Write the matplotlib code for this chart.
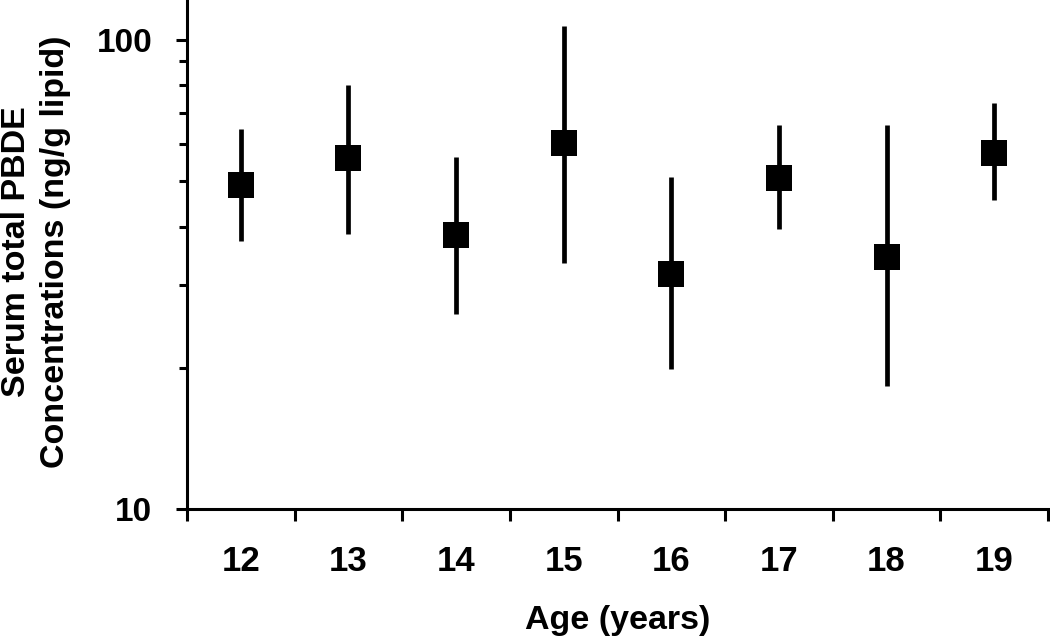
import matplotlib
matplotlib.use("Agg")
import matplotlib.pyplot as plt
from matplotlib.ticker import FixedLocator, NullFormatter, LogLocator

plt.rcParams['font.family'] = ['Liberation Sans', 'DejaVu Sans']
plt.rcParams['font.weight'] = 'bold'

ages = [12, 13, 14, 15, 16, 17, 18, 19]
mean_vals = [49.1, 55.9, 38.4, 60.2, 31.7, 50.7, 34.5, 57.5]
upper_vals = [64.5, 80.2, 56.4, 107.1, 51.1, 65.9, 65.9, 73.5]
lower_vals = [37.3, 38.6, 26.0, 33.5, 19.9, 39.5, 18.3, 45.6]
y_ticks = [10, 100]
y_tick_labels = ["10", "100"]

fig = plt.figure(figsize=(10.5, 6.43), dpi=100)
ax = fig.add_axes([187/1050, 1 - 509/643, (1048-187)/1050, 509/643])

err_lo = [m - l for m, l in zip(mean_vals, lower_vals)]
err_hi = [u - m for m, u in zip(mean_vals, upper_vals)]
ax.errorbar(ages, mean_vals, yerr=[err_lo, err_hi], fmt='s', color='black',
            ecolor='black', elinewidth=3.4, capsize=0, markersize=19,
            markeredgewidth=0, zorder=3)

ax.set_yscale('log')
ax.set_ylim(10, 121.7)
ax.set_xlim(11.5, 19.5)

ax.yaxis.set_major_locator(FixedLocator(y_ticks))
ax.set_yticklabels(y_tick_labels, fontweight='bold')
ax.yaxis.set_minor_locator(LogLocator(base=10, subs=[2, 3, 4, 5, 6, 7, 8, 9]))
ax.yaxis.set_minor_formatter(NullFormatter())

bounds = [a - 0.5 for a in ages] + [ages[-1] + 0.5]
ax.set_xticks(bounds)
ax.set_xticklabels([''] * len(bounds))
ax.set_xticks(ages, minor=True)
ax.set_xticklabels([str(a) for a in ages], minor=True, fontweight='bold')

ax.tick_params(axis='x', which='major', direction='out', length=8.5, width=2.2)
ax.tick_params(axis='x', which='minor', length=0, labelsize=25, pad=26)
ax.tick_params(axis='y', which='major', direction='out', length=8, width=2.2,
               labelsize=24, pad=17)
ax.tick_params(axis='y', which='minor', direction='out', length=5.5, width=2.2)

for s in ['top', 'right']:
    ax.spines[s].set_visible(False)
for s in ['left', 'bottom']:
    ax.spines[s].set_linewidth(2.2)

ax.set_xlabel('Age (years)', fontsize=24.5, fontweight='bold', labelpad=19)
fig.text(36/1050, 1 - 252/643, 'Serum total PBDE\nConcentrations (ng/g lipid)',
         rotation=90, ha='center', va='center', multialignment='center',
         fontsize=24.5, fontweight='bold', linespacing=1.3)

fig.savefig('out.png', dpi=100)
